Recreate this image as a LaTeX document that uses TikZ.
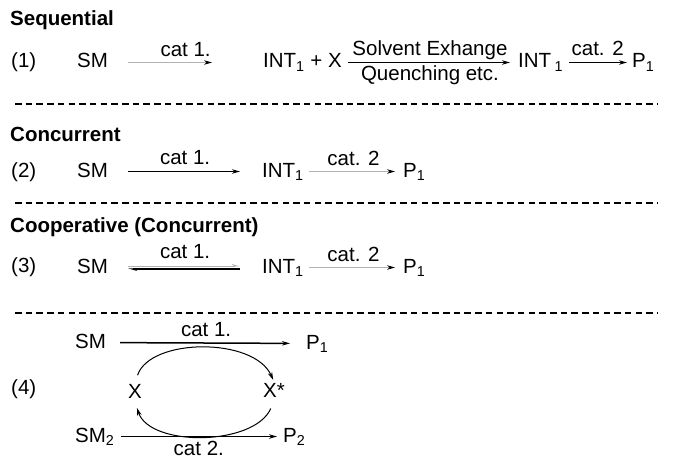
\documentclass[tikz,border=0pt]{standalone}
\usepackage{fontspec}
\setmainfont{Liberation Sans}
\usepackage{tikz}
\usetikzlibrary{arrows.meta}
\colorlet{lightgray}{gray!60}

\begin{document}
\begin{tikzpicture}[x=1pt, y=-1pt, >={Stealth[length=8pt,width=4.5pt]},
	every node/.style={inner sep=0pt, anchor=base west, text height=15pt, text depth=4pt, font=\fontsize{20.5}{24}\selectfont},
	head/.style={font=\fontsize{20.5}{24}\selectfont\bfseries},
	thinarr/.style={-{Stealth[length=8pt,width=4.5pt,color=black]}, draw=lightgray, line width=0.8pt},
	boldarr/.style={->, line width=#1},
	arc/.style={->, line width=1pt},
	sep/.style={line width=2pt, dash pattern=on 6.5pt off 4.2pt}]
				\useasboundingbox (0,0) rectangle (686,460);

				% Nodes

				\node [head] (h1) at (10,26) {Sequential};
				\node (l1) at (11,68) {(1)};
				\node (s1) at (77,68) {SM};
				\node (i1) at (263,68) {INT\textsubscript{1} + X};
				\node (j1) at (518,68) {INT\,\textsubscript{1}};
				\node (p1) at (632,68) {P\textsubscript{1}};

				\node [head] (h2) at (10,142) {Concurrent};
				\node (l2) at (11,177) {(2)};
				\node (s2) at (77,177) {SM};
				\node (i2) at (262,177) {INT\textsubscript{1}};
				\node (p2) at (403,177) {P\textsubscript{1}};

				\node [head] (h3) at (10,232) {Cooperative (Concurrent)};
				\node (l3) at (11,272) {(3)};
				\node (s3) at (77,273) {SM};
				\node (i3) at (262,273) {INT\textsubscript{1}};
				\node (p3) at (403,273) {P\textsubscript{1}};

				\node (s4) at (75,348) {SM};
				\node (q4) at (306,349) {P\textsubscript{1}};
				\node (l4) at (11,394) {(4)};
				\node (x4) at (128,398) {X};
				\node (y4) at (263,397) {X*};
				\node (t4) at (75,442) {SM\textsubscript{2}};
				\node (r4) at (283,442) {P\textsubscript{2}};

				% Arrows

				\draw[thinarr, shorten <=20pt, shorten >=51pt] (s1) -- node[midway, above=2pt] {cat 1.} (i1);
				\draw[boldarr=1.2pt, shorten <=6pt, shorten >=8pt] (i1) -- node[midway, above=2pt] {Solvent Exhange} node[midway, below=2pt] {Quenching etc.} (j1);
				\draw[boldarr=1.5pt, shorten <=6pt, shorten >=5pt] (j1) -- node[midway, above=2pt] {cat. 2} (p1);
				\draw[boldarr=1.8pt, shorten <=20pt, shorten >=22pt] (s2) -- node[midway, above=2pt] {cat 1.} (i2);
				\draw[thinarr, shorten <=5pt, shorten >=8pt] (i2) -- node[midway, above=2pt] {cat. 2} (p2);
				\draw[-{Stealth[harpoon,length=7pt,width=4pt]}, draw=lightgray, line width=0.8pt, shorten <=20pt, shorten >=22pt] ([yshift=1.5pt]s3.east) -- node[midway, above=3pt] {cat 1.} ([yshift=1.5pt]i3.west);
				\draw[-{Stealth[harpoon,length=7pt,width=4pt]}, line width=1.8pt, shorten <=22pt, shorten >=20pt] ([yshift=-1.5pt]i3.west) -- ([yshift=-1.5pt]s3.east);
				\draw[thinarr, shorten <=5pt, shorten >=8pt] (i3) -- node[midway, above=2pt] {cat. 2} (p3);
				\draw[boldarr=1.5pt, shorten <=14pt, shorten >=16pt] (s4) -- node[midway, above=2pt] {cat 1.} (q4);
				\draw[boldarr=1.5pt, shorten <=6pt, shorten >=6pt] (t4) -- node[midway, below=3pt] {cat 2.} (r4);
				\draw[arc, shorten <=8pt, shorten >=2pt] (x4.north) .. controls +(15,-45) and +(-20,-45) .. (y4.north);
				\draw[arc, shorten <=8pt, shorten >=6pt] (y4.south) .. controls +(-20,45) and +(15,45) .. (x4.south);

				% Separators

				\draw[sep] (15,104) -- (658,104);
				\draw[sep] (15,203) -- (658,203);
				\draw[sep] (15,313) -- (658,313);
			\end{tikzpicture}
\end{document}
